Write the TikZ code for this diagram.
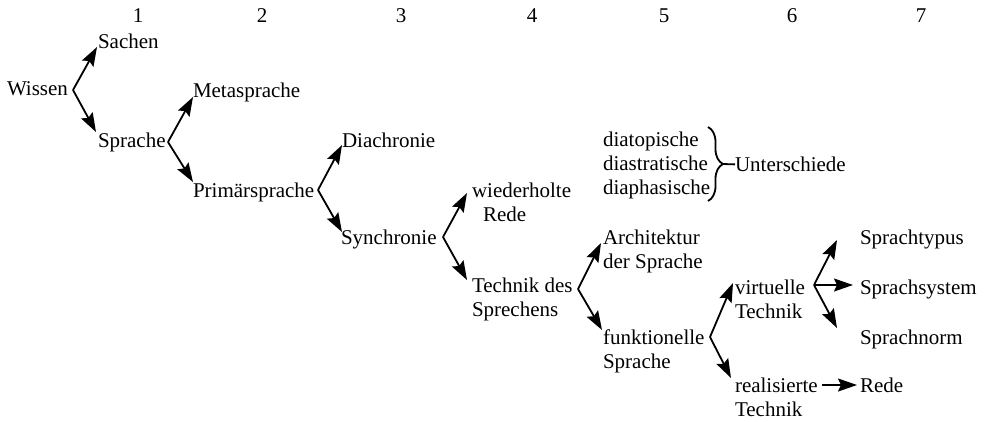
\documentclass[tikz,border=0pt]{standalone}
\usepackage{fontspec}
\setmainfont{Liberation Serif}
\usetikzlibrary{arrows.meta,calc,decorations.pathreplacing}
\tikzset{
  lbl/.style={inner sep=0pt, outer sep=0pt, anchor=north west, align=left,
    font=\fontsize{21bp}{24bp}\selectfont},
  num/.style={inner sep=0pt, outer sep=0pt, anchor=north,
    font=\fontsize{21bp}{24bp}\selectfont},
  br/.style={line width=1.8bp, line join=round,
    -{Stealth[length=19bp,width=13bp,inset=3bp]}},
  plain/.style={line width=1.8bp}
}
\begin{document}
\begin{tikzpicture}[x=1bp,y=-1bp]
\useasboundingbox (0,0) rectangle (985,421);
% column numbers
\node[num] (c1) at (138,9) {1};
\node[num] (c2) at (262,9) {2};
\node[num] (c3) at (401,9) {3};
\node[num] (c4) at (532,9) {4};
\node[num] (c5) at (664,9) {5};
\node[num] (c6) at (792,9) {6};
\node[num] (c7) at (921,9) {7};
% labels
\node[lbl] (sachen) at (98,34) {Sachen};
\node[lbl] (wissen) at (7,82) {Wissen};
\node[lbl] (meta) at (193,83) {Metasprache};
\node[lbl] (sprache) at (98,133) {Sprache};
\node[lbl] (prim) at (193,183) {Primärsprache};
\node[lbl] (dia) at (342,133) {Diachronie};
\node[lbl] (syn) at (341,230) {Synchronie};
\node[lbl] (wied) at (472,183) {wiederholte\\\hspace*{11bp}Rede};
\node[lbl] (tech) at (472,278) {Technik des\\Sprechens};
\node[lbl] (diatop) at (603,132) {diatopische\\diastratische\\diaphasische};
\node[lbl] (unt) at (735,157) {Unterschiede};
\node[lbl] (arch) at (603,230) {Architektur\\der Sprache};
\node[lbl] (funk) at (603,330) {funktionelle\\Sprache};
\node[lbl] (virt) at (735,280) {virtuelle\\Technik};
\node[lbl] (real) at (735,378) {realisierte\\Technik};
\node[lbl] (typ) at (860,230) {Sprachtypus};
\node[lbl] (sys) at (860,280) {Sprachsystem};
\node[lbl] (norm) at (860,330) {Sprachnorm};
\node[lbl] (rede) at (860,378) {Rede};
% branching points
\coordinate (vW) at (73,90);
\coordinate (vS) at (168,142);
\coordinate (vP) at (318,190);
\coordinate (vY) at (443,237);
\coordinate (vT) at (578,289);
\coordinate (vF) at (710,337);
\coordinate (vV) at (814,285);
% connectors
\draw[br] (vW) -- ($(sachen.north west)+(-1,13)$);
\draw[br] (vW) -- ($(sprache.north west)+(-2,-1)$);
\draw[br] (vS) -- ($(meta.north west)+(0,14)$);
\draw[br] (vS) -- ($(prim.north west)+(0,-1)$);
\draw[br] (vP) -- ($(dia.north west)+(0,12)$);
\draw[br] (vP) -- ($(syn.north west)+(1,2)$);
\draw[br] (vY) -- ($(wied.north west)+(-5,10)$);
\draw[br] (vY) -- ($(tech.north west)+(-5,2)$);
\draw[br] (vT) -- ($(arch.north west)+(-2,13)$);
\draw[br] (vT) -- ($(funk.north west)+(-1,0)$);
\draw[br] (vF) -- ($(virt.north west)+(-2,3)$);
\draw[br] (vF) -- ($(real.north west)+(-4,0)$);
\draw[br] (vV) -- ($(typ.north west)+(-23,10)$);
\draw[br] (vV) -- ($(sys.north west)+(-7,5)$);
\draw[br] (vV) -- ($(norm.north west)+(-23,-2)$);
\draw[br] ($(real.north west)+(87,7)$) -- ($(rede.north west)+(-3,7)$);
% brace
\draw[plain, decorate, decoration={brace, amplitude=15bp}] (708,127) -- (708,201);
\coordinate (bt) at (723,164);
\draw[plain] (bt) -- (unt.west);
\end{tikzpicture}
\end{document}
